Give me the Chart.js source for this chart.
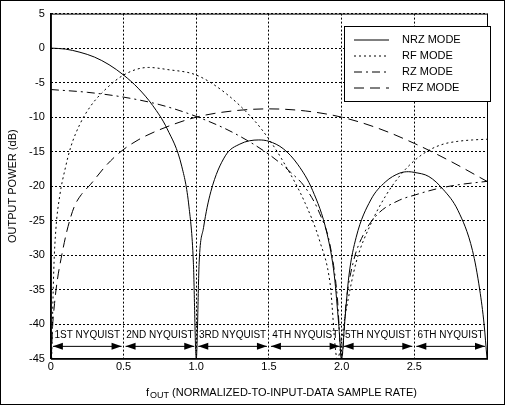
<!DOCTYPE html>
<html><head><meta charset="utf-8">
<script src="https://cdn.jsdelivr.net/npm/chart.js@4/dist/chart.umd.min.js"></script>
<style>
html,body{margin:0;padding:0;background:#fff}
#wrap{position:relative;width:503px;height:403px;border:1px solid #000}
</style></head>
<body><div id="wrap"><canvas id="c" width="503" height="403"></canvas></div>
<script>
// values
var nrzF = [0,0.1,0.2,0.3,0.4,0.5,0.6,0.7,0.8,0.9,0.95,0.98,1.0,1.02,1.05,1.1,1.2,1.3,1.43,1.5,1.6,1.7,1.8,1.9,1.95,1.98,2.0,2.02,2.05,2.1,2.2,2.3,2.4,2.46,2.5,2.6,2.7,2.8,2.9,2.95,2.98,3.0];
var nrzDb = [0,-0.14,-0.6,-1.3,-2.4,-3.9,-5.8,-8.3,-11.7,-17.1,-23,-31,-45,-31,-26,-20.8,-15.6,-13.9,-13.3,-13.5,-14.6,-16.9,-20.6,-26.9,-33,-40,-45,-40,-33,-27.4,-22,-19.4,-18.1,-17.9,-18,-18.6,-20.5,-23.5,-29.3,-35,-40,-45];
var rfF = [0.005,0.02,0.034,0.06,0.1,0.137,0.2,0.27,0.35,0.5,0.67,0.8,1.0,1.2,1.4,1.5,1.6,1.75,1.85,1.92,1.97,2.03,2.1,2.2,2.3,2.4,2.5,2.6,2.7,2.8,2.9,3.0];
var rfDb = [-45,-32,-26.3,-21.5,-17.3,-14.3,-11,-8.5,-6.5,-3.9,-2.8,-3.1,-3.9,-6.5,-10.5,-13.2,-16.5,-22.5,-28,-34,-45,-38,-31,-25.5,-21.5,-18.5,-16.3,-14.8,-13.9,-13.5,-13.3,-13.2];
var rzF = [0,0.25,0.5,0.75,1.0,1.25,1.5,1.65,1.75,1.85,1.92,1.97,2.0,2.03,2.08,2.15,2.25,2.4,2.5,2.65,2.8,3.0];
var rzDb = [-6,-6.4,-7.1,-8.2,-9.9,-12.2,-15.4,-18,-20.2,-24,-28.5,-36,-45,-37,-31,-27,-24,-22,-21.3,-20.4,-19.8,-19.3];
var rfzF = [0.003,0.01,0.025,0.045,0.07,0.11,0.16,0.21,0.27,0.38,0.48,0.6,0.75,1.0,1.25,1.5,1.75,2.0,2.25,2.5,2.75,3.0];
var rfzDb = [-45,-41,-37,-33.5,-30.5,-26.5,-23,-21.2,-19.8,-17,-15,-13.3,-11.8,-10,-9.1,-8.8,-9.1,-10,-11.6,-13.8,-16.4,-19.3];
var zones = ['1ST NYQUIST','2ND NYQUIST','3RD NYQUIST','4TH NYQUIST','5TH NYQUIST','6TH NYQUIST'];
var xTicks = [0,0.5,1.0,1.5,2.0,2.5,3.0];

function pts(f,d){ return f.map(function(x,i){ return {x:x,y:d[i]}; }); }
var FONT = 'Liberation Sans, Arial, sans-serif';

var sets = [
  {label:'NRZ MODE', data:pts(nrzF,nrzDb), borderDash:[]},
  {label:'RF MODE', data:pts(rfF,rfDb), borderDash:[2,3]},
  {label:'RZ MODE', data:pts(rzF,rzDb), borderDash:[8,4,2,4]},
  {label:'RFZ MODE', data:pts(rfzF,rfzDb), borderDash:[10,6]}
];
sets.forEach(function(s){ s.borderColor='#000'; s.borderWidth=1; s.pointRadius=0; s.cubicInterpolationMode='monotone'; s.fill=false; });

var extras = {
  id:'extras',
  afterDraw:function(ch){
    var c = ch.ctx, xs = ch.scales.x, ys = ch.scales.y, a = ch.chartArea;
    c.save();
    c.fillStyle='#000'; c.strokeStyle='#000'; c.lineWidth=1;
    // nyquist zones
    c.font = '10px '+FONT; c.textAlign='center'; c.textBaseline='middle';
    var yt = ys.getPixelForValue(-41.6), ya = ys.getPixelForValue(-43.2);
    for (var i=0;i<6;i++){
      var x0 = xs.getPixelForValue(i*0.5), x1 = xs.getPixelForValue(i*0.5+0.5);
      c.fillText(zones[i], (x0+x1)/2, yt);
      c.beginPath(); c.moveTo(x0+2,ya); c.lineTo(x1-2,ya); c.stroke();
      c.beginPath(); c.moveTo(x0+2,ya); c.lineTo(x0+12,ya-3.5); c.lineTo(x0+12,ya+3.5); c.fill();
      c.beginPath(); c.moveTo(x1-2,ya); c.lineTo(x1-12,ya-3.5); c.lineTo(x1-12,ya+3.5); c.fill();
    }
    // solid frame of the plot
    c.strokeRect(a.left+0.5,a.top+0.5,a.right-a.left,a.bottom-a.top);
    c.setLineDash([]);
    // legend
    var lx=343, ly=25, lw=146, lh=75;
    c.fillStyle='#fff'; c.fillRect(lx,ly,lw,lh);
    c.strokeRect(lx+0.5,ly+0.5,lw,lh);
    c.font = '11px '+FONT; c.textAlign='left'; c.fillStyle='#000';
    sets.forEach(function(s,k){
      var yy = ly+14+k*16;
      c.setLineDash(s.borderDash); c.beginPath(); c.moveTo(lx+10,yy); c.lineTo(lx+45,yy); c.stroke();
      c.fillText(s.label, lx+58, yy);
    });
    c.setLineDash([]);
    // axis titles
    c.save(); c.translate(12,(a.top+a.bottom)/2); c.rotate(-Math.PI/2);
    c.textAlign='center'; c.fillText('OUTPUT POWER (dB)',0,0); c.restore();
    var tx = 145, ty = 392;
    c.textAlign='left';
    c.fillText('f',tx,ty); c.font='9px '+FONT; c.fillText('OUT',tx+4,ty+3);
    c.font='11px '+FONT; c.fillText(' (NORMALIZED-TO-INPUT-DATA SAMPLE RATE)',tx+23,ty);
    c.restore();
  }
};

new Chart(document.getElementById('c'), {
  type:'line',
  data:{datasets:sets},
  options:{
    responsive:false, animation:false,
    layout:{padding:{left:22,right:17,top:10,bottom:28}},
    plugins:{legend:{display:false},tooltip:{enabled:false}},
    scales:{
      x:{type:'linear',min:0,max:3,
        afterBuildTicks:function(s){ s.ticks = xTicks.map(function(v){return {value:v};}); },
        ticks:{color:'#000',font:{family:FONT,size:11},padding:2,
          callback:function(v){ return v===0?'0':v===3?'':v.toFixed(1); }},
        grid:{color:'#000',lineWidth:1,drawTicks:false},
        border:{color:'#000',dash:[2,2]}},
      y:{min:-45,max:5,
        ticks:{stepSize:5,color:'#000',font:{family:FONT,size:11},padding:6},
        grid:{color:'#000',lineWidth:1,drawTicks:false},
        border:{color:'#000',dash:[2,2]}}
    }
  },
  plugins:[extras]
});
</script></body></html>
